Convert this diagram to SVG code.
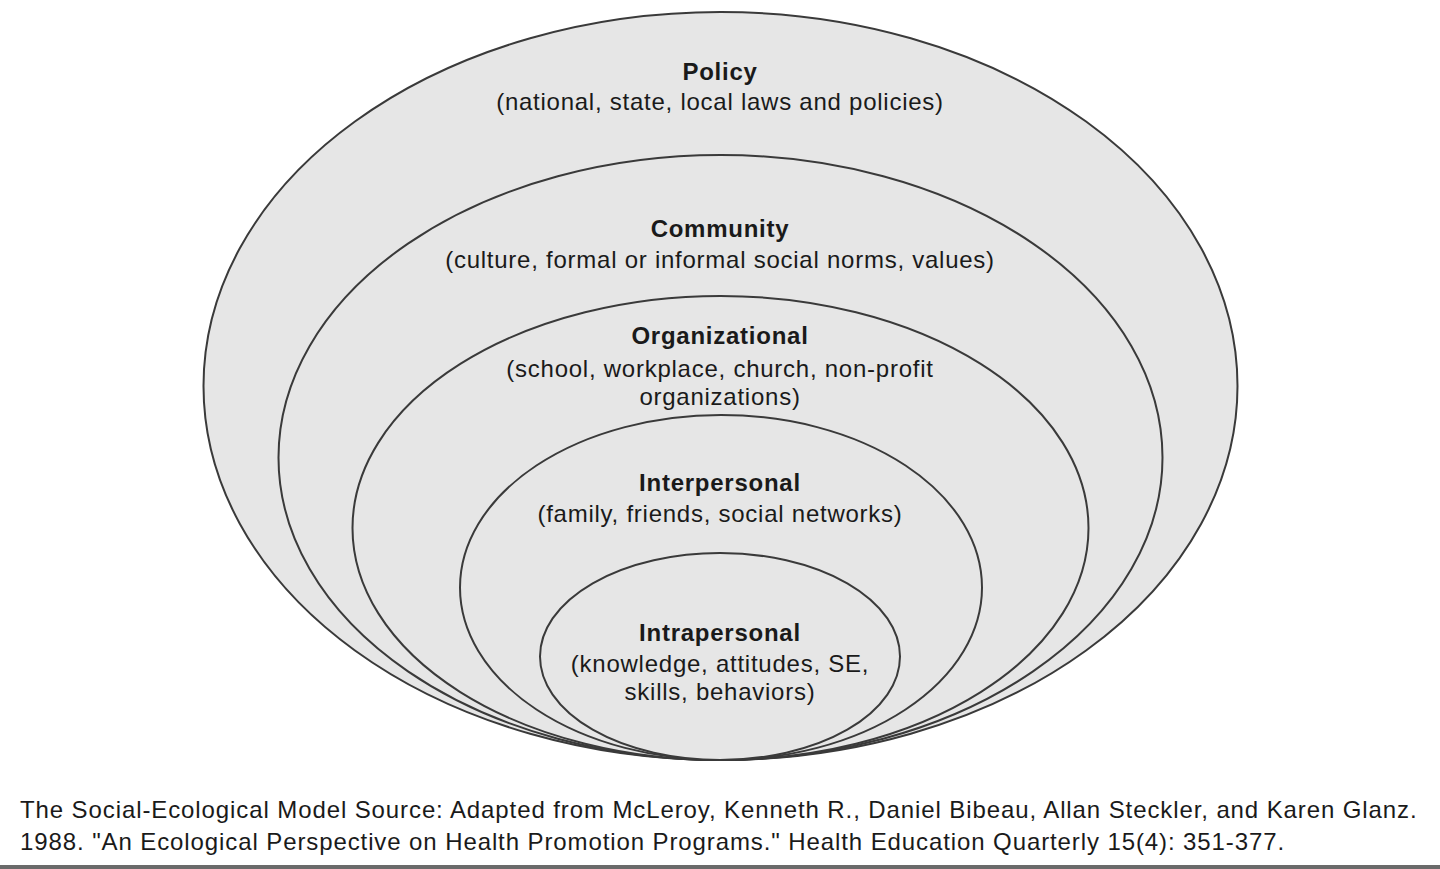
<svg xmlns="http://www.w3.org/2000/svg" width="1440" height="869" viewBox="0 0 1440 869">
<style>
.ring{fill:#e6e6e6;stroke:#3a3a3a;stroke-width:2}
.t{font-family:"Liberation Sans",Arial,sans-serif;font-size:24px;letter-spacing:0.75px;fill:#1a1a1a;text-anchor:middle}
.b{font-weight:bold}
.cap{font-family:"Liberation Sans",Arial,sans-serif;font-size:24px;letter-spacing:0.9px;fill:#1a1a1a}
</style>
<rect width="1440" height="869" fill="#ffffff"/>
<g id="policy">
<ellipse class="ring" cx="720.5" cy="386" rx="517" ry="374"/>
<text class="t b" x="720" y="80">Policy</text>
<text class="t" x="720" y="110">(national, state, local laws and policies)</text>
</g>
<g id="community">
<ellipse class="ring" cx="720.5" cy="457.5" rx="442" ry="302.5"/>
<text class="t b" x="720" y="237">Community</text>
<text class="t" x="720" y="268">(culture, formal or informal social norms, values)</text>
</g>
<g id="organizational">
<ellipse class="ring" cx="720.5" cy="528" rx="368" ry="232"/>
<text class="t b" x="720" y="344">Organizational</text>
<text class="t" x="720" y="377">(school, workplace, church, non-profit</text>
<text class="t" x="720" y="405">organizations)</text>
</g>
<g id="interpersonal">
<ellipse class="ring" cx="721" cy="587.5" rx="261" ry="172.5"/>
<text class="t b" x="720" y="491">Interpersonal</text>
<text class="t" x="720" y="522">(family, friends, social networks)</text>
</g>
<g id="intrapersonal">
<ellipse class="ring" cx="720" cy="656.5" rx="180" ry="103.5"/>
<text class="t b" x="720" y="641">Intrapersonal</text>
<text class="t" x="720" y="672">(knowledge, attitudes, SE,</text>
<text class="t" x="720" y="700">skills, behaviors)</text>
</g>
<g id="connectors"></g>
<g id="caption">
<text class="cap" x="20" y="818">The Social-Ecological Model Source: Adapted from McLeroy, Kenneth R., Daniel Bibeau, Allan Steckler, and Karen Glanz.</text>
<text class="cap" x="20" y="850">1988. "An Ecological Perspective on Health Promotion Programs." Health Education Quarterly 15(4): 351-377.</text>
</g>
<rect x="0" y="865" width="1440" height="4" fill="#6a6a6a"/>
</svg>
